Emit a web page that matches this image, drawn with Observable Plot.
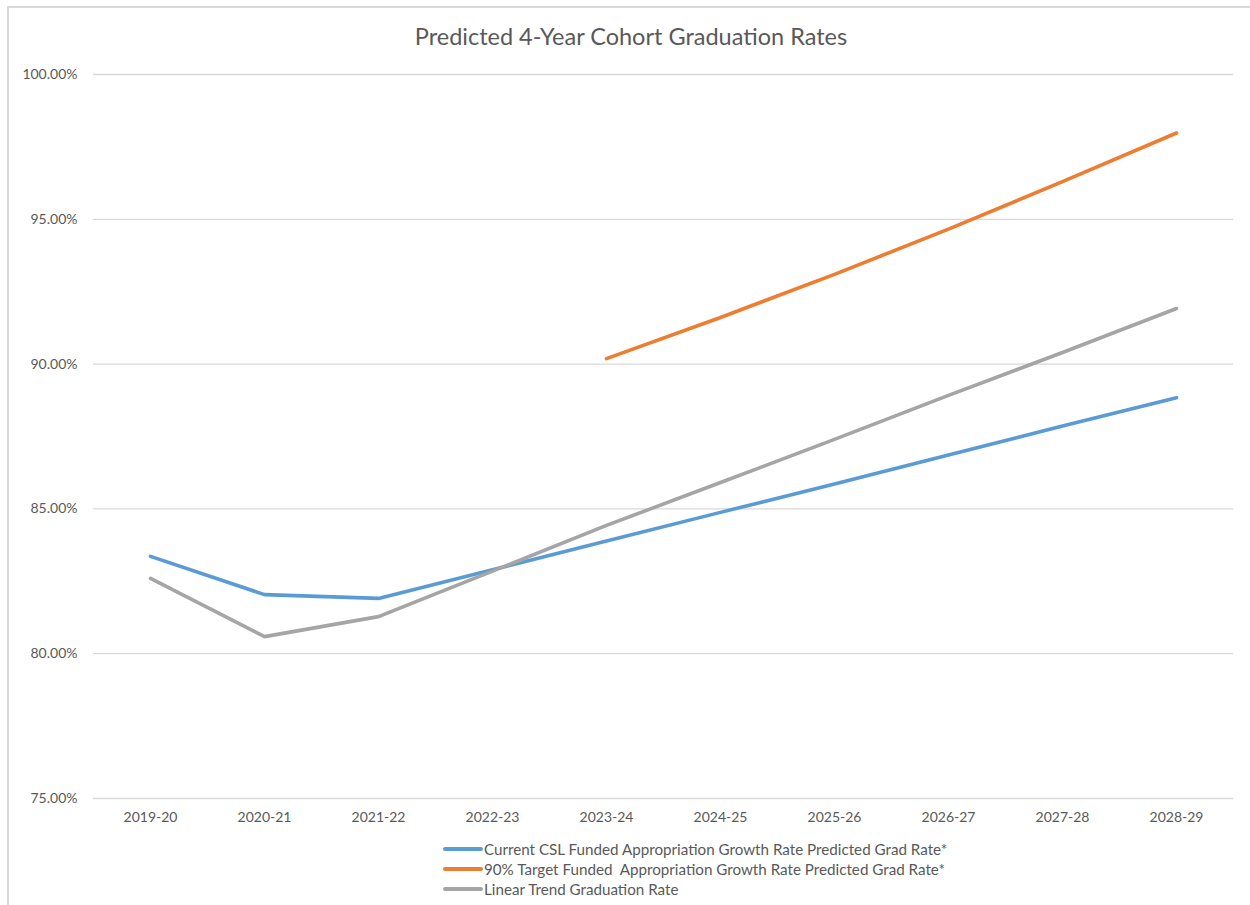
<!DOCTYPE html>
<html>
<head>
<meta charset="utf-8">
<script src="https://cdn.jsdelivr.net/npm/d3@7"></script>
<script src="https://cdn.jsdelivr.net/npm/@observablehq/plot@0.6"></script>
<style>
  html, body { margin: 0; padding: 0; background: #fff; }
  body { width: 1250px; height: 905px; position: relative; overflow: hidden; font-family: Lato, "Open Sans", sans-serif; color: #595959; }
  #frame { position: absolute; left: 7px; top: 6px; width: 1260px; height: 920px; border: 2px solid #d9d9d9; box-sizing: border-box; }
  #title { position: absolute; left: 0; width: 1262px; top: 22px; text-align: center; font-size: 23.5px; color: #595959; }
  #chart { position: absolute; left: 0; top: 0; }
  #legend { position: absolute; left: 443px; top: 839px; font-size: 15.2px; color: #595959; }
  .row { height: 20px; display: flex; align-items: center; }
  .sw { width: 40px; height: 4px; border-radius: 2px; margin-right: 1px; }
</style>
</head>
<body>
<div id="frame"></div>
<div id="title">Predicted 4-Year Cohort Graduation Rates</div>
<div id="chart"></div>
<div id="legend"></div>
<script>
const years = ["2019-20","2020-21","2021-22","2022-23","2023-24","2024-25","2025-26","2026-27","2027-28","2028-29"];
const seriesNames = [
  "Current CSL Funded Appropriation Growth Rate Predicted Grad Rate*",
  "90% Target Funded  Appropriation Growth Rate Predicted Grad Rate*",
  "Linear Trend Graduation Rate"
];
const currentCSL = [83.36, 82.04, 81.91, 82.90, 83.89, 84.88, 85.86, 86.86, 87.86, 88.84];
const target90   = [null, null, null, null, 90.19, 91.61, 93.10, 94.66, 96.30, 97.98];
const linearTrend = [82.60, 80.59, 81.28, 82.85, 84.43, 85.91, 87.40, 88.92, 90.40, 91.92];
const colors = ["#5b9bd5", "#ed7d31", "#a5a5a5"];
const yTicks = [75, 80, 85, 90, 95, 100];

const allSeries = [currentCSL, target90, linearTrend];
const data = [];
allSeries.forEach((vals, si) => {
  vals.forEach((v, i) => {
    if (v != null) data.push({series: seriesNames[si], year: years[i], value: v});
  });
});

const chart = Plot.plot({
  width: 1250,
  height: 830,
  marginLeft: 93,
  marginRight: 17,
  marginTop: 74,
  marginBottom: 32,
  style: {fontFamily: "Lato, 'Open Sans', sans-serif", fontSize: "14px", color: "#595959", background: "transparent"},
  x: {type: "point", domain: years, padding: 0.5, label: null, tickSize: 0, tickPadding: 14},
  y: {domain: [75, 100], ticks: yTicks, tickFormat: d => d.toFixed(2) + "%", label: null, tickSize: 0, tickPadding: 16},
  color: {domain: seriesNames, range: colors},
  marks: [
    Plot.ruleY(yTicks, {stroke: "#d9d9d9", strokeWidth: 1.3, strokeOpacity: 1}),
    Plot.line(data, {x: "year", y: "value", z: "series", stroke: "series", strokeWidth: 3.6, strokeLinecap: "round", strokeLinejoin: "round"})
  ]
});
document.getElementById("chart").appendChild(chart);

const legend = document.getElementById("legend");
seriesNames.forEach((name, i) => {
  const row = document.createElement("div");
  row.className = "row";
  const sw = document.createElement("div");
  sw.className = "sw";
  sw.style.background = colors[i];
  const t = document.createElement("span");
  t.textContent = name;
  t.style.whiteSpace = "pre";
  row.appendChild(sw);
  row.appendChild(t);
  legend.appendChild(row);
});
</script>
</body>
</html>
